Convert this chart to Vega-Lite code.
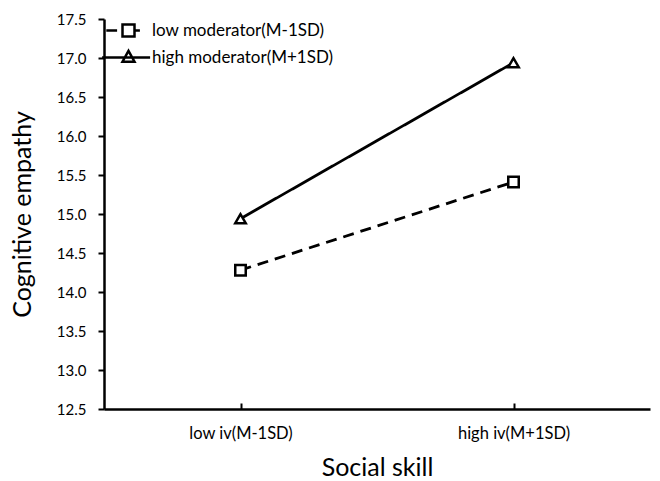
{
  "$schema": "https://vega.github.io/schema/vega-lite/v6.json",
  "width": 546,
  "height": 390,
  "autosize": {"type": "none"},
  "padding": {"left": 104, "top": 19, "right": 10, "bottom": 72},
  "background": "white",
  "config": {
    "view": {"stroke": null},
    "font": "Lato",
    "axis": {"grid": false, "domainColor": "black", "tickColor": "black", "labelColor": "black", "titleColor": "black", "domainWidth": 2.5, "tickWidth": 2, "labelFont": "Lato", "titleFont": "Lato", "titleFontWeight": "normal"}
  },
  "datasets": {
    "pts": [
      {"iv": "low iv(M-1SD)", "group": "low moderator(M-1SD)", "value": 14.28},
      {"iv": "high iv(M+1SD)", "group": "low moderator(M-1SD)", "value": 15.41},
      {"iv": "low iv(M-1SD)", "group": "high moderator(M+1SD)", "value": 14.94},
      {"iv": "high iv(M+1SD)", "group": "high moderator(M+1SD)", "value": 16.94}
    ]
  },
  "data": {"name": "pts"},
  "encoding": {
    "x": {
      "field": "iv", "type": "nominal", "sort": ["low iv(M-1SD)", "high iv(M+1SD)"],
      "scale": {"type": "point", "padding": 0.5},
      "axis": {"title": "Social skill", "labelAngle": 0, "labelFontSize": 16.5, "titleFontSize": 25, "tickSize": -6, "labelPadding": 22, "titlePadding": 14}
    },
    "y": {
      "field": "value", "type": "quantitative",
      "scale": {"domain": [12.5, 17.5], "nice": false, "zero": false},
      "axis": {"title": "Cognitive empathy", "values": [12.5, 13, 13.5, 14, 14.5, 15, 15.5, 16, 16.5, 17, 17.5], "format": ".1f", "labelFontSize": 15, "titleFontSize": 25, "tickSize": 6, "labelPadding": 12, "titlePadding": 21}
    }
  },
  "layer": [
    {
      "mark": {"type": "line", "color": "black", "strokeWidth": 2.8},
      "encoding": {
        "detail": {"field": "group"},
        "strokeDash": {"field": "group", "type": "nominal", "scale": {"domain": ["low moderator(M-1SD)", "high moderator(M+1SD)"], "range": [[11, 7], [1, 0]]}, "legend": null}
      }
    },
    {
      "mark": {"type": "point", "filled": false, "fill": "white", "fillOpacity": 1, "stroke": "black", "strokeWidth": 2.5, "opacity": 1, "size": 110},
      "encoding": {
        "shape": {"field": "group", "type": "nominal", "scale": {"domain": ["low moderator(M-1SD)", "high moderator(M+1SD)"], "range": ["square", "triangle-up"]}, "legend": null}
      }
    },
    {
      "transform": [{"filter": "false"}],
      "mark": {"type": "point", "filled": false, "stroke": "black", "strokeWidth": 2.5, "opacity": 1},
      "encoding": {
        "shape": {
          "field": "group", "type": "nominal",
          "scale": {"domain": ["low moderator(M-1SD)", "high moderator(M+1SD)"], "range": ["M-3.7,0H-1.9M-1,-1H1V1H-1ZM1,0H1.9", "M-4.4,0H3.6M0,-1.1L1,0.7H-1Z"]},
          "legend": {"orient": "none", "legendX": 16, "legendY": 3, "title": null, "padding": 0, "symbolSize": 144, "symbolStrokeColor": "black", "symbolFillColor": "white", "symbolStrokeWidth": 2.5, "symbolOpacity": 1, "labelFont": "Lato", "labelFontSize": 17, "labelColor": "black", "labelOffset": 15, "labelLimit": 0, "rowPadding": 3}
        }
      }
    }
  ],
  "resolve": {"scale": {"shape": "independent"}}
}
